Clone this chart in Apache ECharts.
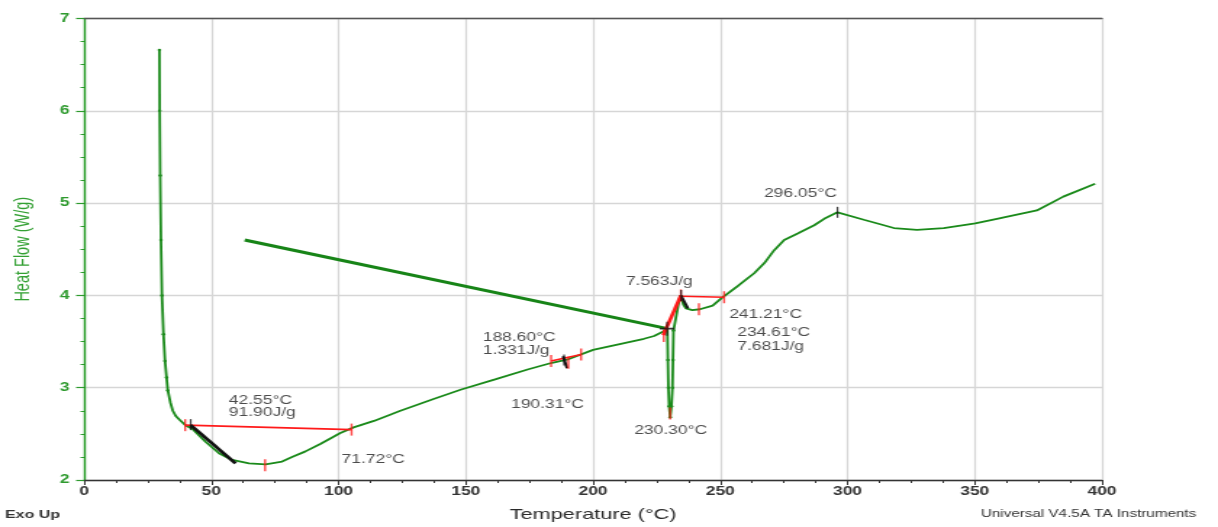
<!DOCTYPE html>
<html>
<head>
<meta charset="utf-8">
<script src="https://cdn.jsdelivr.net/npm/echarts@6/dist/echarts.min.js"></script>
<style>
  html, body { margin: 0; padding: 0; background: #fff; overflow: hidden; }
  #wrap { width: 1218px; height: 527px; overflow: hidden; }
  #chart { width: 840px; height: 527px; transform: scaleX(1.45); transform-origin: 0 0; }
</style>
</head>
<body>
<div id="wrap"><div id="chart"></div></div>
<script>
// ---- axes ----
const xTicks = [0, 50, 100, 150, 200, 250, 300, 350, 400];
const yTicks = [2, 3, 4, 5, 6, 7];

// ---- main DSC trace (Temperature °C, Heat Flow W/g) ----
const temperature = [
  29.6, 29.7, 29.9, 30.2, 30.6, 31.2, 31.8, 32.4, 32.9, 33.9, 34.85, 36.1, 37.4, 39.9, 42.5, 47.7, 53.0, 58.2, 64.8,
  71.3, 77.8, 81.7, 87.0, 92.8, 100.7, 105.9, 113.9, 124.3, 137.6, 148.2, 161.5, 174.6, 183.9, 190.5, 200, 205,
  210, 215, 220, 224, 227, 229.2,
  229.4, 229.6, 229.9, 230.3, 230.8, 231.2, 231.4, 231.6, 232.5, 233.5, 234.3, 234.7,
  235.5, 236.5, 239, 242, 247, 250.5, 256.8, 263.3, 267.3, 271.2, 275.1, 280.4, 286.9, 290.8, 296.05,
  306.4, 318.2, 327.3, 337.8, 350.2, 350.9, 358.7, 374.4, 384.8, 397.3
];
const heatFlow = [
  6.66, 6.0, 5.3, 4.6, 4.0, 3.58, 3.29, 3.11, 2.97, 2.84, 2.75, 2.69, 2.655, 2.59, 2.556, 2.414, 2.29, 2.217, 2.18,
  2.17, 2.20, 2.25, 2.31, 2.39, 2.51, 2.57, 2.64, 2.75, 2.88, 2.98, 3.09, 3.20, 3.27, 3.31, 3.41, 3.44,
  3.47, 3.50, 3.53, 3.56, 3.60, 3.64,
  3.30, 3.00, 2.80, 2.68, 2.80, 3.00, 3.30, 3.62, 3.75, 3.90, 4.00, 3.97,
  3.90, 3.86, 3.84, 3.85, 3.89, 3.97, 4.10, 4.24, 4.35, 4.49, 4.60, 4.67, 4.76, 4.83, 4.90,
  4.82, 4.73, 4.71, 4.73, 4.78, 4.80, 4.83, 4.92, 5.07, 5.21
];
// straight return segment of the trace
const returnT = [63.1, 229.2];
const returnHF = [4.60, 3.64];

// ---- analysis results ----
const labelTexts = ['42.55°C', '91.90J/g', '71.72°C', '188.60°C', '1.331J/g', '190.31°C',
                    '230.30°C', '7.563J/g', '241.21°C', '234.61°C', '7.681J/g', '296.05°C'];
const labelT  = [56.9, 56.9, 101.2, 156.7, 156.7, 167.8, 216.2, 212.9, 253.5, 256.7, 256.7, 267.2];
const labelHF = [2.86, 2.73, 2.22, 3.54, 3.40, 2.82, 2.53, 4.15, 3.79, 3.60, 3.445, 5.10];

// integration baselines (red) : [T1, HF1, T2, HF2]
const baselines = [
  [39.7, 2.594, 105.1, 2.546],
  [183.5, 3.29, 195.3, 3.36],
  [234.5, 3.99, 251.5, 3.98]
];
const redTangent = [227.6, 3.57, 234.5, 4.00];
const redTickT  = [39.7, 105.1, 71.1, 183.5, 195.3, 190.3, 227.8, 234.5, 230.3, 241.6, 251.5];
const redTickHF = [2.594, 2.546, 2.16, 3.29, 3.36, 3.27, 3.56, 4.0, 2.72, 3.85, 3.98];
// black onset tangents
const blackLines = [
  [41.9, 2.594, 59.5, 2.18],
  [188.2, 3.34, 189.8, 3.21],
  [234.5, 4.00, 237.3, 3.86]
];
const blackTickT  = [41.9, 188.6, 234.6, 296.05];
const blackTickHF = [2.60, 3.30, 4.00, 4.90];
const crossT = [229.1];
const crossHF = [3.64];

const GREEN = '#1a8a1a';
const AXGREEN = '#2e9a2e';
const FONT = '"Liberation Sans", Arial, sans-serif';

const zip = (a, b) => a.map((v, i) => [v, b[i]]);
const segSeries = (s, color, width, z) => ({
  type: 'line', data: [[s[0], s[1]], [s[2], s[3]]], symbol: 'none', silent: true,
  lineStyle: { color: color, width: width }, z: z, animation: false
});

const chart = echarts.init(document.getElementById('chart'), null, { renderer: 'canvas' });

const series = [
  {
    type: 'line', data: zip(temperature, heatFlow), z: 2,
    symbol: 'circle',
    symbolSize: (v) => (v[0] < 33 || (v[0] > 229.3 && v[0] < 231.7)) ? 2.5 : 0,
    itemStyle: { color: GREEN },
    lineStyle: { color: GREEN, width: 1.8 }
  },
  {
    type: 'line', data: zip(returnT, returnHF), symbol: 'none', z: 2,
    lineStyle: { color: '#178417', width: 3 }
  }
];
baselines.forEach(b => series.push(segSeries(b, '#ff1a1a', 1.6, 5)));
series.push(segSeries(redTangent, '#ff1a1a', 2.6, 5));
blackLines.forEach((b, i) => series.push(segSeries(b, '#111', i === 0 ? 2.6 : 2, 6)));
series.push({
  type: 'scatter', data: zip(redTickT, redTickHF), symbol: 'rect', symbolSize: [1.4, 12],
  itemStyle: { color: '#ff1a1a' }, z: 7, silent: true
});
series.push({
  type: 'scatter', data: zip(blackTickT, blackTickHF), symbol: 'rect', symbolSize: [1.2, 11],
  itemStyle: { color: '#111' }, z: 8, silent: true
});
series.push({
  type: 'scatter', data: zip(crossT, crossHF),
  symbol: 'path://M4.4,0H5.6V4.4H10V5.6H5.6V10H4.4V5.6H0V4.4H4.4Z', symbolSize: [10, 14],
  itemStyle: { color: '#111' }, z: 8, silent: true
});
series.push({
  type: 'scatter', symbolSize: 0, z: 9, silent: true,
  data: labelTexts.map((t, i) => ({ name: t, value: [labelT[i], labelHF[i]] })),
  label: {
    show: true, position: 'right', distance: 0, formatter: '{b}',
    color: '#1e1e1e', fontSize: 12, fontFamily: FONT
  }
});

chart.setOption({
  animation: false,
  backgroundColor: '#ffffff',
  grid: { left: 56.2, right: 80, top: 18.5, bottom: 44 },
  xAxis: [
    {
      type: 'value', min: 0, max: 400, interval: 50,
      axisLine: { lineStyle: { color: '#333', width: 1.3 } },
      axisTick: { show: true, length: 5, lineStyle: { color: '#333', width: 1 } },
      minorTick: { show: true, splitNumber: 4, length: 3, lineStyle: { color: '#333', width: 1 } },
      axisLabel: { color: '#333', fontSize: 12, fontWeight: 'bold', margin: 6, fontFamily: FONT,
                   formatter: (v) => xTicks.includes(v) ? String(v) : '' },
      splitLine: { show: true, lineStyle: { color: '#d6d6d6', width: 1.2 } },
      name: 'Temperature (°C)', nameLocation: 'middle', nameGap: 27,
      nameTextStyle: { color: '#2a2a2a', fontSize: 15, fontFamily: FONT }
    },
    {
      type: 'value', min: 0, max: 400, position: 'top',
      axisLine: { show: true, lineStyle: { color: '#555', width: 1.3 } },
      axisTick: { show: false }, axisLabel: { show: false }, splitLine: { show: false }
    }
  ],
  yAxis: [
    {
      type: 'value', min: 2, max: 7, interval: 1,
      axisLine: { show: true, lineStyle: { color: AXGREEN, width: 1.2 } },
      axisTick: { show: true, length: 5.5, lineStyle: { color: AXGREEN, width: 1.2 } },
      minorTick: { show: true, splitNumber: 4, length: 2.5, lineStyle: { color: AXGREEN, width: 1 } },
      axisLabel: { color: AXGREEN, fontSize: 12, fontWeight: 'bold', margin: 10, fontFamily: FONT,
                   formatter: (v) => yTicks.includes(v) ? String(v) : '' },
      splitLine: { show: true, lineStyle: { color: '#d6d6d6', width: 1.3 } },
      name: 'Heat Flow (W/g)', nameLocation: 'middle', nameGap: 35,
      nameTextStyle: { color: '#33a033', fontSize: 14.5, fontFamily: FONT }
    },
    {
      type: 'value', min: 2, max: 7, position: 'right',
      axisLine: { show: true, lineStyle: { color: '#1f9a1f', width: 1.2 } },
      axisTick: { show: false }, axisLabel: { show: false }, splitLine: { show: false }
    }
  ],
  graphic: [
    { type: 'text', left: 3.5, top: 509, style: { text: 'Exo Up', fill: '#333', font: 'bold 11px ' + FONT } },
    { type: 'text', right: 15, top: 509, style: { text: 'Universal V4.5A TA Instruments', fill: '#333', font: '10.5px ' + FONT } }
  ],
  series: series
});
</script>
</body>
</html>
